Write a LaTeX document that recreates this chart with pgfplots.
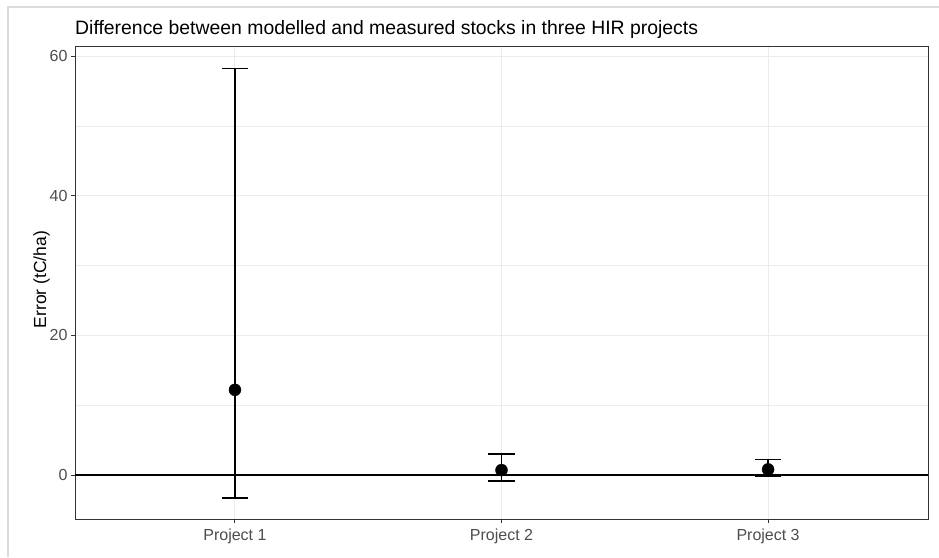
\documentclass[border=0pt]{standalone}
\usepackage{pgfplots}
\pgfplotsset{compat=1.18}
\usepackage{fontspec}
\setmainfont{Liberation Sans}
\definecolor{gridc}{HTML}{EBEBEB}
\definecolor{gtwenty}{HTML}{333333}
\definecolor{gthirty}{HTML}{4D4D4D}
\definecolor{framec}{HTML}{DCDCDC}
\pgfplotstableread{
x y ep em
1 12.2 46.0 15.45
2 0.7 2.35 1.56
3 0.8 1.4 1.04
}\errdata
\begin{document}
\begin{tikzpicture}[x=1pt,y=1pt]
\useasboundingbox (0,0) rectangle (939,557);
\draw[framec, line width=1.2pt] (8,0) -- (8,550) -- (939,550);
\node[anchor=west, font=\fontsize{19.4}{19.4}\selectfont, inner sep=0pt] at (75,528) {Difference between modelled and measured stocks in three HIR projects};
\begin{axis}[
  at={(75pt,38pt)}, anchor=south west, scale only axis,
  width=853pt, height=472pt,
  xmin=0.4, xmax=3.6, ymin=-6.3, ymax=61.3,
  xtick={1,2,3}, xticklabels={Project 1,Project 2,Project 3},
  ytick={0,20,40,60}, minor ytick={10,30,50},
  grid=both,
  major grid style={gridc, line width=1pt},
  minor grid style={gridc, line width=0.6pt},
  axis line style={gtwenty, line width=1pt},
  tick align=outside, major tick length=4pt, minor tick length=0pt,
  tick style={gtwenty, line width=1pt},
  xtick pos=bottom, ytick pos=left,
  ticklabel style={font=\fontsize{16}{16}\selectfont, text=gthirty},
  xticklabel style={yshift=-2pt},
  /pgf/number format/assume math mode=true,
  ylabel={Error (tC/ha)},
  ylabel style={font=\fontsize{17.5}{17.5}\selectfont, at={(rel axis cs:-0.034,0.507)}, anchor=base},
]
\addplot[black, line width=2pt, forget plot] coordinates {(0.4,0) (3.6,0)};
\addplot[only marks, mark=*, mark size=6pt, black,
  error bars/.cd, y dir=both, y explicit,
  error bar style={line width=1.6pt, black},
  error mark options={rotate=90, line width=1.6pt, mark size=13.3pt, black}]
  table[x=x, y=y, y error plus=ep, y error minus=em] {\errdata};
\end{axis}
\end{tikzpicture}
\end{document}
